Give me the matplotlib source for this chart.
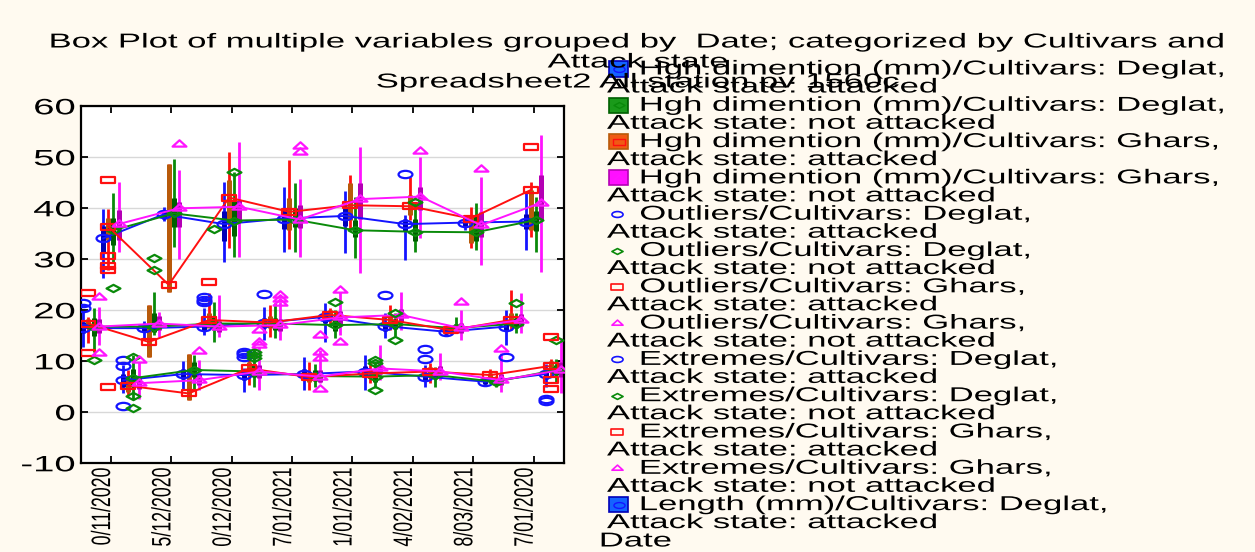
import matplotlib
matplotlib.use('Agg')
import matplotlib.pyplot as plt
import numpy as np
from matplotlib.path import Path
from matplotlib.transforms import Affine2D
from matplotlib.patches import Rectangle
from matplotlib.lines import Line2D
from matplotlib.patheffects import AbstractPathEffect

# ---- data ----
dates = ['0/11/2020', '5/12/2020', '0/12/2020', '7/01/2021',
         '1/01/2021', '4/02/2021', '8/03/2021', '7/01/2020']
title_lines = ['Box Plot of multiple variables grouped by  Date; categorized by Cultivars and',
               'Attack state',
               'Spreadsheet2 All station pv 1560c']
cultivars = ['Deglat', 'Deglat', 'Ghars', 'Ghars']
states = ['attacked', 'not attacked', 'attacked', 'not attacked']

# rows: Deglat attacked, Deglat not attacked, Ghars attacked, Ghars not attacked
# "Hgh dimention" (left box of each date)
hd_mean = [[16.5, 16.5, 16.8, 17.6, 18.7, 16.9, 15.8, 16.8],
           [16.8, 16.8, 17.4, 17.4, 17.1, 17.3, 16.5, 17.4],
           [17.4, 13.8, 18.1, 17.6, 19.1, 18.1, 16.1, 18.1],
           [16.8, 17.4, 16.8, 17.1, 18.6, 19.1, 16.5, 18.1]]
hd_qlo = [[15.5, 16.0, 16.0, 16.5, 17.5, 16.0, 15.3, 16.0],
          [15.0, 15.8, 16.2, 16.2, 16.0, 16.3, 16.0, 16.5],
          [16.5, 10.8, 16.5, 16.5, 18.0, 17.0, 15.5, 17.0],
          [15.5, 16.2, 15.8, 16.0, 17.2, 17.8, 15.5, 17.0]]
hd_qhi = [[17.8, 17.0, 18.0, 18.5, 19.5, 17.8, 16.3, 17.6],
          [18.5, 19.5, 18.8, 18.5, 18.3, 18.3, 17.3, 18.4],
          [18.3, 21.0, 19.4, 18.8, 20.0, 19.2, 16.6, 19.5],
          [18.2, 18.8, 18.0, 18.3, 19.8, 20.3, 17.5, 19.3]]
hd_wlo = [[12.9, 14.5, 15.2, 14.2, 13.8, 14.5, 15.0, 13.2],
          [11.9, 15.2, 13.8, 14.5, 14.5, 15.0, 15.5, 15.5],
          [13.5, 10.8, 17.5, 14.8, 17.0, 16.1, 15.3, 16.1],
          [13.2, 14.8, 14.8, 14.2, 15.2, 16.1, 14.2, 15.5]]
hd_whi = [[19.7, 18.0, 20.4, 20.7, 21.4, 19.5, 16.8, 20.0],
          [20.4, 23.5, 21.7, 21.4, 20.0, 19.5, 18.7, 19.5],
          [18.7, 21.0, 23.4, 21.0, 20.5, 21.0, 16.8, 24.0],
          [20.7, 19.7, 23.0, 21.7, 23.6, 23.6, 20.0, 23.3]]

# "Length" (middle box of each date)
len_mean = [[34.1, 38.8, 36.9, 38.0, 38.5, 36.9, 37.2, 37.4],
            [35.7, 39.0, 37.6, 37.8, 35.7, 35.4, 35.3, 37.7],
            [36.4, 25.0, 42.1, 39.3, 40.6, 40.4, 38.0, 43.6],
            [36.9, 40.0, 40.3, 37.8, 41.8, 42.3, 36.7, 41.1]]
len_qlo = [[31.5, 38.0, 33.5, 36.0, 36.5, 35.5, 36.5, 36.0],
           [32.8, 36.3, 34.5, 36.4, 34.4, 33.5, 33.5, 35.5],
           [33.8, 23.6, 37.1, 35.7, 37.7, 38.7, 33.1, 35.7],
           [33.8, 36.4, 37.4, 36.1, 38.0, 39.7, 34.4, 37.7]]
len_qhi = [[36.5, 39.5, 39.5, 40.0, 40.5, 38.0, 37.8, 38.8],
           [38.1, 42.0, 41.5, 40.0, 37.7, 38.0, 38.5, 39.5],
           [38.1, 48.6, 45.5, 42.0, 44.9, 42.6, 38.7, 43.6],
           [39.7, 41.3, 41.6, 40.6, 44.9, 44.2, 39.3, 46.5]]
len_wlo = [[26.3, 37.5, 29.5, 31.5, 31.2, 29.9, 35.7, 31.8],
           [29.3, 32.5, 30.5, 31.5, 30.2, 31.5, 31.8, 31.5],
           [27.9, 23.6, 32.2, 32.0, 35.7, 37.7, 32.2, 34.4],
           [31.5, 30.0, 30.5, 30.5, 27.4, 34.1, 28.9, 27.6]]
len_whi = [[39.8, 40.2, 45.2, 44.2, 43.3, 38.7, 38.1, 43.3],
           [43.0, 49.6, 47.2, 44.9, 42.3, 41.3, 41.0, 42.3],
           [39.9, 48.6, 51.1, 49.5, 46.5, 46.2, 40.3, 45.2],
           [45.2, 47.5, 53.0, 45.7, 52.1, 50.1, 46.2, 54.4]]

# third variable (right box of each date)
v3_mean = [[6.3, 7.5, 7.3, 7.5, 8.0, 7.0, 6.0, 7.5],
           [6.7, 8.3, 8.0, 7.1, 7.0, 7.3, 6.0, 8.3],
           [5.2, 3.7, 8.6, 6.9, 7.6, 8.0, 7.3, 9.1],
           [5.7, 6.3, 8.0, 7.0, 8.6, 8.0, 6.3, 8.3]]
v3_qlo = [[5.0, 6.5, 6.3, 6.5, 7.0, 6.2, 5.5, 6.5],
          [5.0, 7.0, 7.0, 6.2, 6.0, 6.5, 5.5, 7.3],
          [4.0, 2.5, 7.5, 6.0, 6.8, 7.2, 6.8, 8.2],
          [4.5, 5.3, 6.8, 6.0, 7.5, 7.0, 5.3, 7.0]]
v3_qhi = [[7.5, 8.5, 8.2, 8.5, 9.0, 7.8, 6.5, 8.5],
          [8.5, 9.8, 9.5, 8.2, 8.0, 8.0, 6.6, 9.3],
          [6.5, 11.4, 9.8, 8.0, 8.5, 8.8, 7.8, 10.0],
          [7.0, 7.5, 9.3, 8.2, 9.8, 9.0, 7.5, 9.8]]
v3_wlo = [[3.7, 4.5, 4.0, 4.4, 4.4, 5.0, 5.2, 5.0],
          [2.7, 4.4, 5.0, 5.0, 4.8, 5.0, 5.0, 6.0],
          [3.1, 2.5, 5.4, 4.4, 5.8, 5.7, 6.5, 7.0],
          [2.7, 4.4, 4.4, 5.7, 6.3, 6.3, 4.0, 3.7]]
v3_whi = [[9.3, 10.0, 8.6, 10.9, 11.2, 9.3, 7.0, 9.5],
          [11.2, 11.2, 12.5, 9.5, 10.0, 8.9, 7.2, 10.5],
          [8.3, 11.4, 11.9, 9.9, 9.8, 9.6, 8.5, 10.5],
          [9.9, 10.2, 12.9, 12.2, 13.2, 11.7, 11.6, 14.5]]

# outliers / extremes: (date index, variable index 0=hd 1=length 2=third, value)
out_blue = [(0, 0, 21.4), (0, 0, 20.4), (0, 2, 10.3), (0, 2, 9.1), (0, 2, 1.3),
            (2, 0, 22.6), (2, 0, 22.1), (2, 0, 21.7), (2, 2, 11.9), (2, 2, 11.4),
            (2, 2, 10.9), (3, 0, 23.1), (5, 1, 46.7), (5, 0, 23.0), (5, 2, 12.5),
            (5, 2, 10.4), (7, 0, 10.9), (7, 2, 2.7), (7, 2, 2.3)]
out_green = [(0, 1, 24.4), (0, 0, 10.2), (0, 2, 3.1), (0, 2, 0.9), (0, 2, 10.8),
             (1, 0, 30.2), (1, 0, 27.9), (2, 1, 47.1), (2, 0, 35.9), (2, 2, 11.9),
             (2, 2, 11.3), (2, 2, 10.6), (4, 0, 21.7), (4, 2, 10.2), (4, 2, 9.6),
             (4, 2, 4.3), (5, 1, 41.3), (5, 0, 19.4), (5, 0, 14.2), (7, 0, 21.4),
             (7, 2, 14.2)]
out_red = [(0, 1, 45.5), (0, 1, 30.7), (0, 1, 28.7), (0, 1, 28.0), (0, 1, 5.0),
           (0, 0, 23.3), (0, 0, 11.6), (2, 0, 25.6), (7, 1, 52.0), (7, 2, 14.8),
           (7, 2, 6.3), (7, 2, 4.6)]
out_mag = [(0, 0, 22.7), (0, 0, 11.7), (0, 2, 10.3), (1, 1, 52.7), (1, 2, 12.1),
           (2, 2, 13.8), (2, 2, 13.2), (2, 2, 16.1), (3, 1, 52.2), (3, 1, 51.1),
           (3, 0, 23.0), (3, 0, 22.3), (3, 0, 21.5), (3, 2, 15.2), (3, 2, 11.9),
           (3, 2, 10.6), (3, 2, 4.5), (4, 0, 24.0), (4, 0, 13.8), (5, 1, 51.3),
           (6, 1, 47.8), (6, 0, 21.7), (6, 2, 12.5)]

# ---- style ----
W, H = 1255, 552
SX = 1.72          # the original picture is stretched sideways
plt.rcParams['font.family'] = ['Liberation Sans', 'DejaVu Sans']
plt.rcParams['font.size'] = 14.5
plt.rcParams['axes.unicode_minus'] = False

line_col = ['#1414ff', '#0a8a0a', '#ff1010', '#ff14ff']
box_col = ['#0000b8', '#005f00', '#b85a0a', '#b400b4']
fill_col = ['#1463ff', '#1a9a1a', '#f05a14', '#ff10ff']
slot = [0, 2, 1, 3]           # left-to-right order inside a box group
group_off = [-0.33, 0.0, 0.33]


class Widen(AbstractPathEffect):
    """draw text glyphs stretched horizontally"""
    def __init__(self, sx=SX, anchor='left'):
        super().__init__()
        self.sx = sx
        self.anchor = anchor

    def draw_path(self, renderer, gc, tpath, affine, rgbFace=None):
        ext = tpath.get_extents(affine)
        if self.anchor == 'left':
            x0 = ext.x0
        elif self.anchor == 'right':
            x0 = ext.x1
        else:
            x0 = (ext.x0 + ext.x1) / 2
        aff = affine + Affine2D().translate(-x0, 0).scale(self.sx, 1).translate(x0, 0)
        renderer.draw_path(gc, tpath, aff, rgbFace)


def wide(path, sx=1.9):
    return Affine2D().scale(sx, 1).transform_path(path)


mk = [wide(Path.unit_circle()),
      wide(Path.unit_regular_polygon(4)),
      wide(Affine2D().translate(-0.5, -0.5).transform_path(Path.unit_rectangle()), 2.1),
      wide(Path.unit_regular_polygon(3))]


def fx(px):
    return px / W


def fy(py):
    return 1 - py / H


fig = plt.figure(figsize=(W / 100, H / 100), dpi=100, facecolor='#fffaf0')
ax = fig.add_axes([fx(80.7), fy(463.3), (563.7 - 80.7) / W, (463.3 - 106.3) / H])
ax.set_facecolor('white')

groups = [(hd_mean, hd_qlo, hd_qhi, hd_wlo, hd_whi),
          (len_mean, len_qlo, len_qhi, len_wlo, len_whi),
          (v3_mean, v3_qlo, v3_qhi, v3_wlo, v3_whi)]
cats = np.arange(len(dates))

for g, (mean, qlo, qhi, wlo, whi) in enumerate(groups):
    for s in range(4):
        xs = cats + group_off[g] + (slot[s] - 1.5) * 0.085
        ax.vlines(xs, wlo[s], whi[s], color=line_col[s], lw=2.0, zorder=2)
        ax.vlines(xs, qlo[s], qhi[s], color=box_col[s], lw=3.6, zorder=2)
        ax.plot(xs, mean[s], color=line_col[s], lw=1.4, marker=mk[s], ms=10,
                mfc='none', mec=line_col[s], mew=1.6, zorder=3)

for s, outs in enumerate([out_blue, out_green, out_red, out_mag]):
    ox = [c + group_off[g] + (slot[s] - 1.5) * 0.085 for c, g, v in outs]
    oy = [v for c, g, v in outs]
    ax.plot(ox, oy, ls='none', marker=mk[s], ms=10, mfc='none',
            mec=line_col[s], mew=1.6, zorder=3)

ax.set_xlim(-0.5, len(dates) - 0.5)
ax.set_ylim(-10, 60)
ax.set_yticks(range(-10, 61, 10))
ax.set_xticks(cats)
ax.set_xticklabels(dates, rotation=90, ha='right')
ax.grid(axis='y', color='#d8d8d8', lw=1.0)
ax.set_axisbelow(True)
ax.tick_params(direction='in', length=5, width=1.3, top=True, right=True,
               labelsize=12.8)
ax.tick_params(axis='y', pad=4, labelsize=16)
ax.tick_params(axis='x', pad=3)
for sp in ax.spines.values():
    sp.set_linewidth(1.6)
for t in ax.get_yticklabels():
    t.set_path_effects([Widen(SX, 'right')])
for t in ax.get_xticklabels():
    t.set_path_effects([Widen(1.5, 'center')])

# title
for i, line in enumerate(title_lines):
    fig.text(fx(638), fy(42 + 20 * i), line, ha='center', va='center',
             path_effects=[Widen(SX, 'center')])

# legend drawn by hand: first line after the key, second line under it
legend_items = [('box', s, 'Hgh dimention (mm)') for s in range(4)] + \
               [('pt', s, 'Outliers') for s in range(4)] + \
               [('pt', s, 'Extremes') for s in range(4)] + \
               [('box', 0, 'Length (mm)')]
for i, (kind, s, name) in enumerate(legend_items):
    y = 69 + i * 36.3
    if kind == 'box':
        fig.add_artist(Rectangle((fx(609), fy(y + 7.5)), 19 / W, 15 / H,
                                 transform=fig.transFigure, fc=fill_col[s],
                                 ec=box_col[s], lw=1.2))
        fig.add_artist(Line2D([fx(618.5)], [fy(y)], transform=fig.transFigure,
                              marker=mk[s], ms=8, mfc='none', mec=line_col[s], mew=1.0))
    else:
        fig.add_artist(Line2D([fx(617)], [fy(y)], transform=fig.transFigure,
                              marker=mk[s], ms=8, mfc='none', mec=line_col[s], mew=1.2))
    fig.text(fx(640), fy(y), f'{name}/Cultivars: {cultivars[s]},', va='center',
             path_effects=[Widen(SX, 'left')])
    fig.text(fx(607), fy(y + 18), f'Attack state: {states[s]}', va='center',
             path_effects=[Widen(SX, 'left')])

fig.text(fx(600), fy(541), 'Date', va='center', path_effects=[Widen(SX, 'left')])

fig.savefig('out.png', dpi=100, facecolor=fig.get_facecolor())
